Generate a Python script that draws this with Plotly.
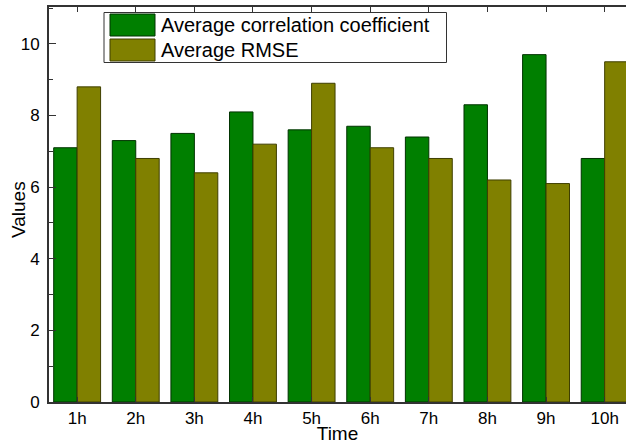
import plotly.graph_objects as go

categories = ["1h", "2h", "3h", "4h", "5h", "6h", "7h", "8h", "9h", "10h"]
corr_values = [7.1, 7.3, 7.5, 8.1, 7.6, 7.7, 7.4, 8.3, 9.7, 6.8]
rmse_values = [8.8, 6.8, 6.4, 7.2, 8.9, 7.1, 6.8, 6.2, 6.1, 9.5]
series_names = ["Average correlation coefficient", "Average RMSE"]
series_colors = ["#007F00", "#808000"]
outline_colors = ["#003300", "#3f3f00"]
y_ticks = [0, 2, 4, 6, 8, 10]
x_title = "Time"
y_title = "Values"

W, H = 626, 444
ML, MR, MT, MB = 49, 0, 7, 42
PW, PH = W - ML - MR, H - MT - MB

fig = go.Figure()
for name, vals, col, oc in zip(series_names, [corr_values, rmse_values], series_colors, outline_colors):
    fig.add_trace(go.Bar(
        x=list(range(len(categories))), y=vals, name=name,
        marker=dict(color=col, line=dict(color=oc, width=1)),
        showlegend=False,
    ))

font = "Liberation Sans, Arial, sans-serif"
fig.update_layout(
    width=W, height=H,
    margin=dict(l=ML, r=MR, t=MT, b=MB, pad=0),
    paper_bgcolor="white", plot_bgcolor="white",
    barmode="group", bargap=0.2, bargroupgap=0.0,
    font=dict(family=font, size=17, color="#000"),
    xaxis=dict(
        range=[-0.48, 9.364],
        tickmode="array", tickvals=list(range(len(categories))), ticktext=categories,
        ticks="inside", ticklen=5, tickwidth=1, tickcolor="#333",
        showline=True, linecolor="#333", linewidth=2, mirror="ticks",
        showgrid=False, zeroline=False,
        tickfont=dict(size=17),
        title=dict(text=x_title, font=dict(size=19), standoff=0),
    ),
    yaxis=dict(
        range=[0, 11.03],
        tickmode="array", tickvals=y_ticks,
        ticks="inside", ticklen=7, tickwidth=1, tickcolor="#333",
        minor=dict(ticks="inside", ticklen=4, tickwidth=1, tickcolor="#333", dtick=1, tick0=0),
        showline=True, linecolor="#333", linewidth=2, mirror=False,
        showgrid=False, zeroline=False,
        tickfont=dict(size=17),
        ticklabelstandoff=4,
    ),
)

def px(x):
    return (x - ML) / PW

def py(y):
    return (H - MB - y) / PH

# y-axis title
annotations = [dict(xref="paper", yref="paper", x=px(18), y=py(210), text=y_title,
                    textangle=-90, showarrow=False, xanchor="center", yanchor="middle",
                    font=dict(size=19, family=font, color="#000"))]

# custom legend
shapes = [dict(type="rect", xref="paper", yref="paper",
               x0=px(104), x1=px(446.5), y0=py(62.5), y1=py(12.5),
               line=dict(color="#333", width=1), fillcolor="white", layer="above")]
rows = [(14, 36), (39, 61)]
for (t, b), name, col, oc in zip(rows, series_names, series_colors, outline_colors):
    shapes.append(dict(type="rect", xref="paper", yref="paper",
                       x0=px(110), x1=px(155), y0=py(b), y1=py(t),
                       line=dict(color=oc, width=1), fillcolor=col, layer="above"))
    annotations.append(dict(xref="paper", yref="paper", x=px(159), y=py((t + b) / 2),
                            text=name, showarrow=False, xanchor="left", yanchor="middle",
                            font=dict(size=20, family=font, color="#000")))
fig.update_layout(shapes=shapes, annotations=annotations)

fig.write_html("out.html", config={"displayModeBar": False},
               post_script="document.body.style.margin='0';document.body.style.overflow='hidden';")
